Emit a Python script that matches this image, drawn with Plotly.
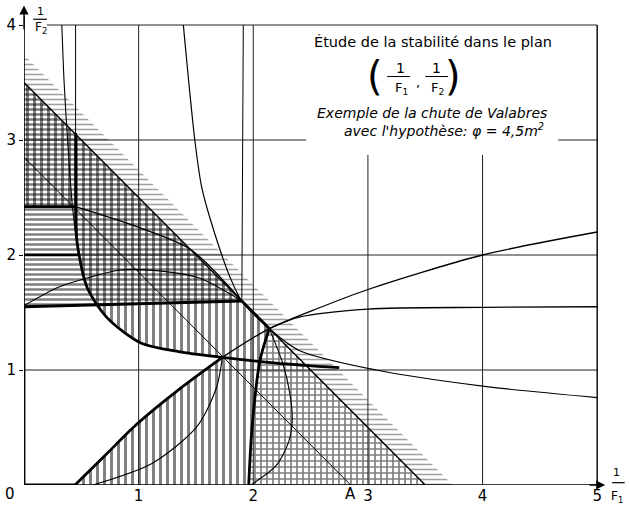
import plotly.graph_objects as go

# ---- axes / grid -------------------------------------------------------
x_ticks = [1, 2, 3, 4, 5]
y_ticks = [1, 2, 3, 4]
grid_x = [1, 2, 3, 4]
grid_y = [1, 2, 3, 4]
x_max, y_max = 5, 4
x_view, y_view = 5.26, 4.2
panel_x = [2.46, 4.66]      # title panel: grid is interrupted here
panel_y = 2.87

# ---- stability boundaries ----------------------------------------------
diag_outer = 3.5            # x + y = const
diag_inner = 2.85           # passes through point A on the abscissa

# thick left branch (hyperbola-like)
k_x = [0.45, 0.45, 0.452, 0.47, 0.55, 0.72, 1.01, 1.35, 1.73, 2.2, 2.75]
k_y = [3.06, 2.42, 2.25, 2.06, 1.72, 1.46, 1.24, 1.16, 1.11, 1.06, 1.02]
k_top_x = [0.45, 0.45]
k_top_y = [3.06, 4.0]

# thin hyperbola near the ordinate
hb_x = [0.33, 0.35, 0.38, 0.42, 0.46]
hb_y = [4.0, 3.5, 3.0, 2.45, 2.1]

# middle hyperbola from the top to the right edge
m_x = [1.39, 1.49, 1.55, 1.65, 1.8, 1.9, 2.14, 2.4, 3.07, 4.0, 5.0]
m_y = [4.0, 3.0, 2.59, 2.23, 1.8, 1.6, 1.36, 1.17, 1.0, 0.86, 0.76]

# rising curve from the abscissa
r_x = [0.445, 0.7, 0.985, 1.35, 1.73, 2.14, 2.6, 3.0, 4.0, 5.0]
r_y = [0.0, 0.25, 0.53, 0.83, 1.11, 1.36, 1.55, 1.70, 2.0, 2.2]
r_thick_n = 5               # first points drawn heavy

# curve flattening towards 1.55
f_x = [2.14, 2.4, 3.0, 4.0, 5.0]
f_y = [1.36, 1.46, 1.53, 1.545, 1.55]

# upper arcs
a1_x = [0.45, 1.0, 1.45, 1.9]
a1_y = [2.42, 2.24, 2.05, 1.6]
a2_x = [0.0, 0.3, 0.55, 0.84, 1.2, 1.53, 1.9]
a2_y = [1.56, 1.72, 1.8, 1.87, 1.86, 1.8, 1.6]

# heavy horizontal pieces
h1_x = [0.0, 1.9]
h1_y = [1.55, 1.6]
h2_x = [0.0, 0.45]
h2_y = [2.42, 2.42]
h3_x = [0.0, 0.47]
h3_y = [2.0, 2.0]

# lower thin arc
lo_x = [0.6, 1.12, 1.51, 1.68, 1.73]
lo_y = [0.0, 0.19, 0.51, 0.85, 1.11]

# heavy branch near 1/F1 = 2 and the lens beside it
b2_x = [2.14, 2.06, 1.99, 1.96]
b2_y = [1.36, 1.09, 0.51, 0.0]
lens_x = [2.14, 2.26, 2.32, 2.34, 2.31, 2.2, 1.98]
lens_y = [1.36, 1.05, 0.79, 0.57, 0.38, 0.17, 0.0]

# near-vertical line down to the junction
v_x = [1.913, 1.9]
v_y = [4.0, 1.6]

INK = "#000000"
fig = go.Figure()


def curve(x, y, w=1.0, shape="spline"):
    fig.add_trace(go.Scatter(x=x, y=y, mode="lines", hoverinfo="skip",
                             line=dict(color=INK, width=w, shape=shape,
                                       smoothing=0.8)))


def hatch(x, y, shape, size, solidity, color=INK):
    fig.add_trace(go.Scatter(x=x, y=y, mode="lines", fill="toself",
                             hoverinfo="skip", line=dict(width=0),
                             fillcolor="rgba(0,0,0,0)",
                             fillpattern=dict(shape=shape, size=size,
                                              solidity=solidity,
                                              fgcolor=color,
                                              bgcolor="rgba(0,0,0,0)")))


# junction points
p_junc = (b2_x[0], b2_y[0])
q_junc = (h1_x[1], h1_y[1])
k_low = [i for i, v in enumerate(k_y) if v <= 2.42 and k_x[i] <= 1.73]

# ---- hatched regions ---------------------------------------------------
# horizontal hatching: above the heavy 1.55 line, below the outer diagonal
hatch([0, q_junc[0], 0], [h1_y[0], q_junc[1], diag_outer], "-", 5, 0.5)

# vertical hatching
vx = [0, 0, h2_x[1]] + [k_x[i] for i in k_low]
vy = [diag_outer, h2_y[0], h2_y[1]] + [k_y[i] for i in k_low]
vx += r_x[:r_thick_n][::-1] + b2_x[::-1] + [0]
vy += r_y[:r_thick_n][::-1] + b2_y[::-1] + [diag_outer]
hatch(vx, vy, "|", 7, 0.42)

# cross-hatched triangle under the outer diagonal
hatch(b2_x + [diag_outer, p_junc[0]], b2_y + [0, p_junc[1]], "+", 6, 0.48)

# short strokes along the outer side of the diagonal
band = 0.24
hatch([0, diag_outer, diag_outer + band, 0],
      [diag_outer, 0, 0, diag_outer + band], "-", 5, 0.32, "#444444")

# ---- grid ----------------------------------------------------------------
gx, gy = [], []
for g in grid_x:
    top = panel_y if panel_x[0] < g < panel_x[1] else y_max
    gx += [g, g, None]
    gy += [0, top, None]
for g in grid_y:
    if g == y_max:
        gx += [0.2, x_max, None]
        gy += [g, g, None]
    elif g > panel_y:
        gx += [0, panel_x[0], None, panel_x[1], x_max, None]
        gy += [g, g, None, g, g, None]
    else:
        gx += [0, x_max, None]
        gy += [g, g, None]
fig.add_trace(go.Scatter(x=gx, y=gy, mode="lines", hoverinfo="skip",
                         line=dict(color="#222222", width=1.0)))

# frame: axes and right border
curve([0, 0], [0, 4.08], 1.6, "linear")
curve([0, 5.05], [0, 0], 1.6, "linear")
curve([x_max, x_max], [0, y_max], 1.4, "linear")

# ---- boundary curves -----------------------------------------------------
curve([0, diag_outer], [diag_outer, 0], 1.4, "linear")
curve([0, diag_inner], [diag_inner, 0], 1.0, "linear")
curve([q_junc[0], p_junc[0]], [q_junc[1], p_junc[1]], 2.8, "linear")
curve(k_x, k_y, 2.8)
curve(k_top_x, k_top_y, 1.0, "linear")
curve(hb_x, hb_y, 1.1)
curve(m_x, m_y, 1.2)
curve(r_x[:r_thick_n], r_y[:r_thick_n], 2.8)
curve(r_x[r_thick_n - 1:], r_y[r_thick_n - 1:], 1.3)
curve(f_x, f_y, 1.3)
curve(a1_x, a1_y, 1.4)
curve(a2_x, a2_y, 1.1)
curve(h1_x, h1_y, 2.8, "linear")
curve(h2_x, h2_y, 2.8, "linear")
curve(h3_x, h3_y, 2.4, "linear")
curve(lo_x, lo_y, 1.1)
curve(b2_x, b2_y, 2.8)
curve(lens_x, lens_y, 1.1)
curve(v_x, v_y, 1.0, "linear")
curve([0, 0], [0, h1_y[0]], 2.8, "linear")
curve([0, r_x[0]], [0, 0], 2.8, "linear")

# ---- text ----------------------------------------------------------------
FONT = "DejaVu Sans"
ann = []


def txt(x, y, s, size=13, italic=False, paper=False):
    t = f"<i>{s}</i>" if italic else s
    base = dict(text=t, showarrow=False, xanchor="center", yanchor="middle",
                font=dict(family=FONT, size=size, color=INK))
    if paper:
        base.update(x=x / x_view, y=y / y_view, xref="paper", yref="paper")
    else:
        base.update(x=x, y=y, xref="x", yref="y")
    ann.append(base)


txt(3.57, 3.853, "Étude de la stabilité dans le plan", 14.5)
txt(3.063, 3.56, "(", 40)
txt(3.745, 3.56, ")", 40)
txt(3.28, 3.625, "1", 14)
txt(3.29, 3.45, "F<sub>1</sub>", 13)
txt(3.44, 3.50, ",", 13)
txt(3.60, 3.625, "1", 14)
txt(3.61, 3.45, "F<sub>2</sub>", 13)
txt(3.56, 3.232, "Exemple de la chute de Valabres", 14, True)
txt(3.66, 3.09, "avec l'hypothèse: φ = 4,5m<sup>2</sup>", 14, True)

# axis titles
txt(0.148, 4.115, "1", 11)
txt(0.15, 3.975, "F<sub>2</sub>", 12)
txt(5.17, 0.105, "1", 11)
txt(5.17, -0.105, "F<sub>1</sub>", 12, paper=True)

# origin and point A
txt(-0.12, -0.075, "0", 15, paper=True)
txt(diag_inner, -0.075, "A", 15, paper=True)

fig.add_shape(type="line", xref="x", yref="y", x0=3.168, x1=3.368,
              y0=3.552, y1=3.552, line=dict(color=INK, width=1))
fig.add_shape(type="line", xref="x", yref="y", x0=3.50, x1=3.70,
              y0=3.552, y1=3.552, line=dict(color=INK, width=1))
fig.add_shape(type="line", xref="x", yref="y", x0=0.08, x1=0.2,
              y0=4.05, y1=4.05, line=dict(color=INK, width=1.2))
fig.add_shape(type="line", xref="x", yref="y", x0=5.13, x1=5.24,
              y0=0.02, y1=0.02, line=dict(color=INK, width=1.2))

# axis arrows
ann.append(dict(x=0, y=4.17, ax=0, ay=3.95, xref="x", yref="y", axref="x",
                ayref="y", text="", showarrow=True, arrowhead=2,
                arrowsize=1.3, arrowwidth=1.4, arrowcolor=INK))
ann.append(dict(x=5.07, y=0, ax=4.92, ay=0, xref="x", yref="y", axref="x",
                ayref="y", text="", showarrow=True, arrowhead=2,
                arrowsize=1.3, arrowwidth=1.4, arrowcolor=INK))

fig.update_layout(
    width=629, height=507,
    margin=dict(l=24, r=2, t=2, b=18),
    paper_bgcolor="white", plot_bgcolor="white",
    showlegend=False,
    annotations=ann,
    xaxis=dict(range=[0, x_view], showgrid=False, zeroline=False,
               showline=False, tickvals=x_ticks,
               ticktext=[str(v) for v in x_ticks], ticks="",
               tickfont=dict(family=FONT, size=15, color=INK)),
    yaxis=dict(range=[0, y_view], showgrid=False, zeroline=False,
               showline=False, tickvals=y_ticks,
               ticktext=[str(v) for v in y_ticks], ticks="outside",
               ticklen=4, tickcolor=INK, tickwidth=1.2,
               tickfont=dict(family=FONT, size=15, color=INK)),
)

fig.write_html("out.html")
